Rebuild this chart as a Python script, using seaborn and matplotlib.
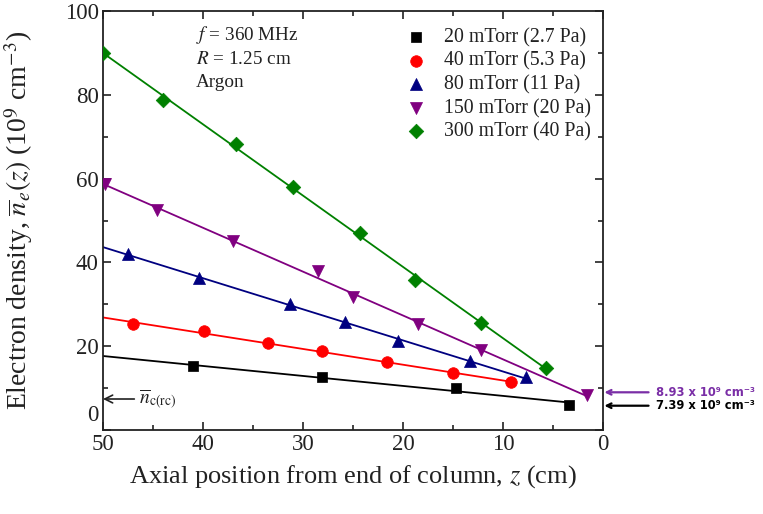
import numpy as np
import matplotlib
matplotlib.use("Agg")
import matplotlib.pyplot as plt
import matplotlib.transforms as mtransforms
import seaborn as sns
from matplotlib.ticker import MultipleLocator

# ---------------- data ----------------
labels = ["20 mTorr (2.7 Pa)", "40 mTorr (5.3 Pa)", "80 mTorr (11 Pa)",
          "150 mTorr (20 Pa)", "300 mTorr (40 Pa)"]

z_20 = [41.0, 28.1, 14.7, 3.4]
n_20 = [15.2, 12.6, 10.0, 6.0]

z_40 = [47.0, 39.9, 33.5, 28.1, 21.6, 15.0, 9.2]
n_40 = [25.2, 23.6, 20.7, 18.8, 16.2, 13.6, 11.4]

z_80 = [47.5, 40.4, 31.3, 25.8, 20.5, 13.3, 7.7]
n_80 = [42.1, 36.2, 30.0, 25.7, 21.2, 16.4, 12.6]

z_150 = [49.8, 44.6, 37.0, 28.5, 25.0, 18.5, 12.2, 1.6]
n_150 = [58.6, 52.6, 45.2, 37.9, 31.7, 25.2, 19.0, 8.3]

z_300 = [50.0, 44.0, 36.7, 31.0, 24.3, 18.8, 12.2, 5.7]
n_300 = [90.0, 78.8, 68.3, 57.9, 47.1, 35.7, 25.5, 14.8]

x_ticks = [50, 40, 30, 20, 10, 0]
y_ticks = [0, 20, 40, 60, 80, 100]

info_lines = ["$f$ = 360 MHz", "$R$ = 1.25 cm", "Argon"]
ann_texts = ["8.93 x 10\u2079 cm\u207b\u00b3", "7.39 x 10\u2079 cm\u207b\u00b3"]
ann_y = [9.0, 5.8]
nrc_y = 7.4

# ---------------- style ----------------
sns.set_theme(style="ticks")
plt.rcParams["font.family"] = ["Liberation Serif", "DejaVu Serif"]
plt.rcParams["mathtext.fontset"] = "stix"

colors = ["#000000", "#ff0000", "#000080", "#800080", "#008000"]
markers = ["s", "o", "^", "v", "D"]
sizes = [55, 70, 75, 75, 55]

fig = plt.figure(figsize=(7.63, 5.14), dpi=100)
ax = fig.add_axes([0.1350, 0.1634, 0.6553, 0.8152])

series = [(z_20, n_20), (z_40, n_40), (z_80, n_80), (z_150, n_150), (z_300, n_300)]
for (z, n), c, m, s, lab in zip(series, colors, markers, sizes, labels):
    z = np.asarray(z); n = np.asarray(n)
    coef = np.polyfit(z, n, 1)
    zz = np.array([50.0, z.min()])
    ax.plot(zz, np.polyval(coef, zz), color=c, lw=1.3, zorder=2)
    sns.scatterplot(x=z, y=n, marker=m, color=c, s=s, edgecolor=c,
                    linewidth=0.5, label=lab, ax=ax, zorder=3)

ax.set_xlim(50, 0)
ax.set_ylim(0, 100)
ax.set_xticks(x_ticks)
ax.set_yticks(y_ticks)
ax.xaxis.set_minor_locator(MultipleLocator(5))
ax.yaxis.set_minor_locator(MultipleLocator(10))
ax.tick_params(which="both", direction="in", top=True, right=True, colors="#222222",
               labelcolor="#222222")
ax.tick_params(which="major", length=6, width=1.2, labelsize=16.5, pad=3)
ax.tick_params(which="minor", length=3.5, width=1.2)
for sp in ax.spines.values():
    sp.set_linewidth(1.3)
    sp.set_color("#222222")

# lift the y "0" label a little so it clears the x "50" label
fig.canvas.draw()
ylab0 = ax.get_yticklabels()[0]
ylab0.set_transform(ylab0.get_transform() +
                    mtransforms.ScaledTranslation(0, 12 / 72, fig.dpi_scale_trans))

ax.set_xlabel("Axial position from end of column, $z$ (cm)", fontsize=19,
              color="#222222", labelpad=6)
ax.set_ylabel(r"Electron density, $\overline{n}_e(z)$ (10$^9$ cm$^{-3}$)", fontsize=20,
              color="#222222")
ax.yaxis.set_label_coords(-0.137, 0.50)

leg = ax.legend(loc="upper left", bbox_to_anchor=(0.578, 0.988), frameon=False,
                fontsize=14.3, labelspacing=0.22, handletextpad=0.8,
                borderaxespad=0.2, handlelength=1.2)
for t in leg.get_texts():
    t.set_color("#222222")

info_y = [0.942, 0.885, 0.830]
for t, yy in zip(info_lines, info_y):
    ax.text(0.186, yy, t, transform=ax.transAxes, fontsize=13.8, va="center",
            ha="left", color="#222222")

ann_colors = ["#7a2ea6", "#000000"]
for t, yy, c in zip(ann_texts, ann_y, ann_colors):
    ax.annotate(t, xy=(0, yy), xycoords="data", xytext=(1.106, yy),
                textcoords=("axes fraction", "data"), ha="left", va="center",
                fontsize=8.3, fontweight="bold", family=["DejaVu Sans"], color=c,
                annotation_clip=False,
                arrowprops=dict(arrowstyle="->", color=c, lw=1.6,
                                shrinkA=3, shrinkB=1))

ax.annotate(r"$\overline{n}_{\mathrm{c(rc)}}$", xy=(50, nrc_y), xycoords="data",
            xytext=(46.4, nrc_y), textcoords="data", ha="left", va="center",
            fontsize=14, color="#222222",
            arrowprops=dict(arrowstyle="->", color="#222222", lw=1.2,
                            shrinkA=1, shrinkB=0))

fig.savefig("out.png", dpi=100)
